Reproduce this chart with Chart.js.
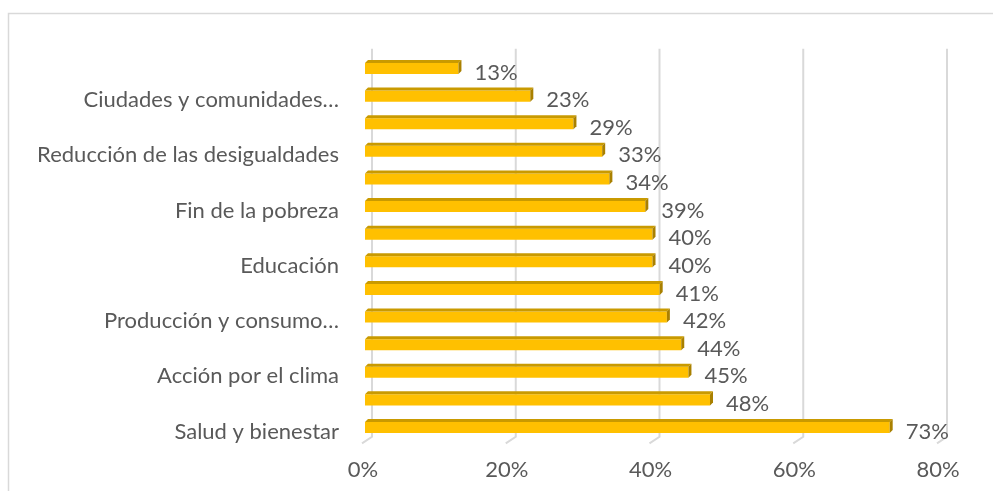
<!DOCTYPE html>
<html>
<head>
<meta charset="utf-8">
<script src="https://cdn.jsdelivr.net/npm/chart.js@4.4.1/dist/chart.umd.min.js"></script>
<style>
html,body{margin:0;padding:0;background:#fff;}
#wrap{position:relative;width:993px;height:491px;}
</style>
</head>
<body>
<div id="wrap"><canvas id="c" width="993" height="491"></canvas></div>
<script>
// Categories top to bottom (only every second label is visible in the source; hidden ones unknown)
const categories = [
  "", "Ciudades y comunidades…", "", "Reducción de las desigualdades", "",
  "Fin de la pobreza", "", "Educación", "", "Producción y consumo…",
  "", "Acción por el clima", "", "Salud y bienestar"
];
const values = [13, 23, 29, 33, 34, 39, 40, 40, 41, 42, 44, 45, 48, 73];
const tickValues = [0, 20, 40, 60, 80];

const FONT = "Lato";
const FS = 22;
const TXT = "#595959";
const FRONT = "#FFC000";
const TOP = "#C99A00";
const SIDE = "#A98000";
const GRID = "#D9D9D9";
const D = 3; // bar depth offset

const framePlugin = {
  id: 'frame',
  beforeDraw(chart) {
    const ctx = chart.ctx;
    ctx.save();
    ctx.strokeStyle = GRID;
    ctx.lineWidth = 1.5;
    ctx.strokeRect(8.5, 13.5, 1200, 600);
    ctx.restore();
  }
};

const gridPlugin = {
  id: 'grid3d',
  beforeDatasetsDraw(chart) {
    const ctx = chart.ctx, xs = chart.scales.x, area = chart.chartArea;
    ctx.save();
    ctx.strokeStyle = GRID;
    ctx.lineWidth = 2;
    tickValues.forEach(v => {
      const px = xs.getPixelForValue(v);
      ctx.beginPath();
      ctx.moveTo(px + 7, area.top - 6);
      ctx.lineTo(px + 7, area.bottom - 4.5);
      ctx.lineTo(px - 3, area.bottom + 2);
      ctx.stroke();
    });
    ctx.restore();
  }
};

const bar3dPlugin = {
  id: 'bar3d',
  afterDatasetsDraw(chart) {
    const ctx = chart.ctx;
    const meta = chart.getDatasetMeta(0);
    ctx.save();
    meta.data.forEach((el, i) => {
      const p = el.getProps(['x', 'y', 'base', 'height'], true);
      const x0 = p.base, xe = p.x, yt = p.y - p.height / 2, yb = p.y + p.height / 2;
      ctx.fillStyle = TOP;
      ctx.beginPath();
      ctx.moveTo(x0, yt); ctx.lineTo(xe, yt); ctx.lineTo(xe + D, yt - D); ctx.lineTo(x0 + D, yt - D);
      ctx.closePath(); ctx.fill();
      ctx.fillStyle = SIDE;
      ctx.beginPath();
      ctx.moveTo(xe, yt); ctx.lineTo(xe + D, yt - D); ctx.lineTo(xe + D, yb - D); ctx.lineTo(xe, yb);
      ctx.closePath(); ctx.fill();
      ctx.fillStyle = TXT;
      ctx.font = FS + "px " + FONT;
      ctx.textAlign = "left";
      ctx.textBaseline = "middle";
      ctx.fillText(values[i] + "%", xe + 16, p.y + 4);
    });
    ctx.restore();
  }
};

new Chart(document.getElementById('c'), {
  type: 'bar',
  data: {
    labels: categories,
    datasets: [{
      data: values,
      backgroundColor: FRONT,
      borderWidth: 0,
      barPercentage: 0.8,
      categoryPercentage: 0.5
    }]
  },
  options: {
    indexAxis: 'y',
    responsive: false,
    animation: false,
    events: [],
    layout: { padding: { top: 54.7, right: 53, left: 0, bottom: 0 } },
    plugins: { legend: { display: false }, tooltip: { enabled: false } },
    scales: {
      x: {
        min: 0, max: 80,
        border: { display: false },
        grid: { display: false, drawTicks: false },
        afterFit(s) { s.height = 49.7; },
        afterBuildTicks(s) { s.ticks = tickValues.map(v => ({ value: v })); },
        ticks: {
          color: TXT, font: { family: FONT, size: FS },
          padding: 15, labelOffset: -2,
          callback: v => v + "%"
        }
      },
      y: {
        border: { display: false },
        grid: { display: false, drawTicks: false },
        afterFit(s) { s.width = 365; },
        ticks: {
          autoSkip: false,
          color: TXT, font: { family: FONT, size: FS },
          padding: 26, labelOffset: 4,
          callback: (v, i) => categories[i]
        }
      }
    }
  },
  plugins: [framePlugin, gridPlugin, bar3dPlugin]
});
</script>
</body>
</html>
